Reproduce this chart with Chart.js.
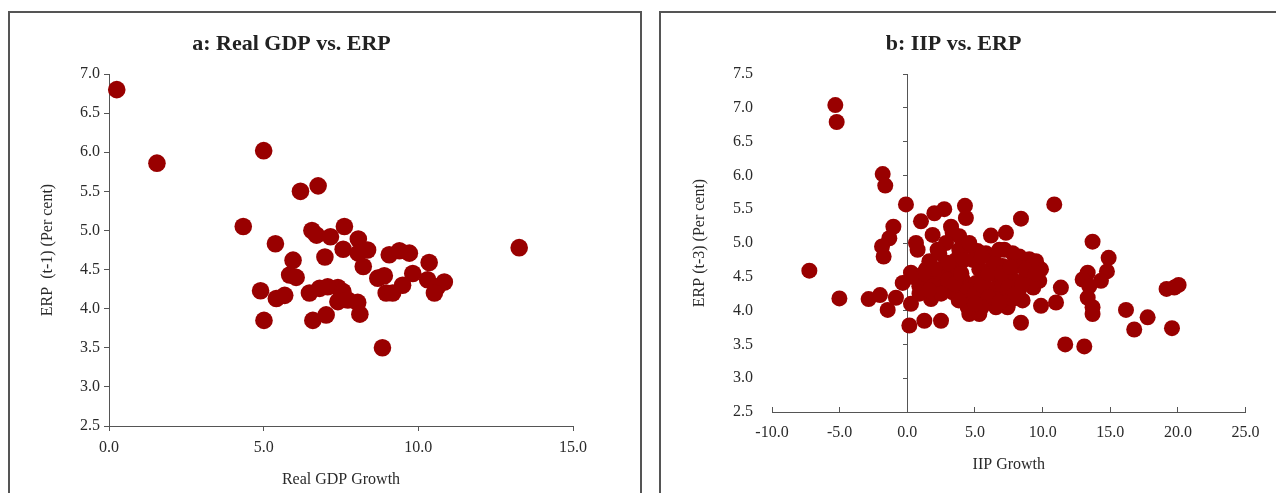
<!DOCTYPE html>
<html>
<head>
<meta charset="utf-8">
<script src="https://cdn.jsdelivr.net/npm/chart.js@4.4.1/dist/chart.umd.min.js"></script>
<style>
  html, body { margin: 0; padding: 0; background: #fff; overflow: hidden; }
  body { width: 1276px; height: 493px; position: relative; }
  .panel { position: absolute; top: 11px; border: 2px solid #555; height: 520px; }
  #panelA { left: 8px; width: 630px; }
  #panelB { left: 659px; width: 640px; }
  canvas { display: block; }
</style>
</head>
<body>
<div class="panel" id="panelA"><canvas id="chartA" width="630" height="480"></canvas></div>
<div class="panel" id="panelB"><canvas id="chartB" width="615" height="480"></canvas></div>
<script>
// panel a: real GDP growth vs ERP (t-1)
const gdpGrowth = [0.25, 1.55, 5.0, 6.19, 6.76, 4.34, 5.38, 6.56, 6.71, 7.16, 7.61, 8.06, 8.36, 7.57, 6.98,
  8.06, 8.22, 5.95, 5.84, 6.05, 9.06, 9.39, 9.71, 10.35, 8.69, 8.9, 9.82, 9.49, 10.3, 10.84, 10.62, 10.52,
  8.96, 9.17, 4.9, 5.41, 5.68, 6.48, 6.81, 7.07, 7.4, 7.56, 7.4, 7.72, 8.04, 8.11, 5.01, 6.59, 7.02, 8.84, 13.26];
const erpT1 = [6.8, 5.86, 6.02, 5.5, 5.57, 5.05, 4.83, 5.0, 4.94, 4.92, 5.05, 4.89, 4.75, 4.76, 4.66,
  4.71, 4.54, 4.62, 4.43, 4.4, 4.69, 4.74, 4.71, 4.59, 4.39, 4.42, 4.45, 4.3, 4.37, 4.34, 4.28, 4.2,
  4.2, 4.2, 4.23, 4.13, 4.17, 4.2, 4.26, 4.28, 4.27, 4.22, 4.09, 4.11, 4.08, 3.93, 3.85, 3.85, 3.92, 3.5, 4.78];

// panel b: IIP growth vs ERP (t-3)
const iipGrowth = [-5.32, -5.22, -1.82, -1.63, -0.1, -7.24, -5.02, -2.86, -2.02, -1.45, -1.03, -1.33, -1.87,
  -1.75, -0.84, -0.34, 0.27, 0.15, 1.26, 2.49, 0.27, 1.75, 1.01, 2.0, 2.73, 4.26, 4.33, 0.64, 0.76, 1.87,
  3.23, 3.84, 6.18, 7.29, 8.4, 10.86, 7.17, 13.69, 14.88, 14.75, 14.31, 13.33, 12.96, 13.45, 13.33, 13.69,
  13.69, 11.35, 10.99, 9.88, 8.4, 11.67, 13.08, 16.16, 17.76, 16.77, 19.56, 19.16, 19.73, 20.05, 4.58,
  5.32, 4.46, 6.55, 7.41, 8.52, 9.31, 9.75, 9.88, 9.51, 9.01, 8.28, 9.26, 6.31, 5.2, 4.33, 3.35, 2.86,
  2.24, 1.63, 1.38, 1.87, 2.36, 3.84, 4.09, 2.86, 3.35, 4.33, 5.07, 5.32, 4.83, 5.81, 6.31, 6.8, 6.31,
  7.29, 7.78, 8.03, 7.78, 8.77, 8.28, 5.81, 4.83, 3.84, 2.36, 0.89, 0.64, 1.38, 1.87, 3.6, 3.23, 2.86,
  7.04, 7.04, 7.78, 6.55, 9.26, 5.81, 3.84, 4.58, 3.35,
  2.6, 3.0, 3.5, 4.0, 4.5, 5.0, 5.5, 6.0, 6.5, 7.0, 7.5, 8.0, 8.5, 6.0, 5.5, 6.8, 4.2, 3.0, 2.0, 1.2,
  5.5, 6.8, 7.6, 8.8, 9.5, 2.5, 3.8, 5.0, 0.3, 0.9, 1.6];
const erpT3 = [7.04, 6.79, 6.02, 5.85, 5.57, 4.59, 4.18, 4.17, 4.23, 4.01, 5.24, 5.07, 4.95,
  4.8, 4.19, 4.41, 4.1, 3.78, 3.85, 3.85, 4.56, 4.17, 5.32, 5.44, 5.5, 5.55, 5.37, 5.0, 4.9, 5.12,
  5.24, 5.1, 5.11, 5.15, 5.36, 5.57, 4.9, 5.02, 4.78, 4.58, 4.44, 4.56, 4.46, 4.36, 4.19, 4.05,
  3.95, 4.34, 4.12, 4.07, 3.82, 3.5, 3.47, 4.01, 3.9, 3.72, 3.74, 4.32, 4.34, 4.38, 3.95,
  3.95, 4.05, 4.05, 4.05, 4.15, 4.34, 4.44, 4.61, 4.73, 4.76, 4.8, 4.66, 4.8, 4.88, 4.95, 5.15, 5.0,
  4.9, 4.73, 4.61, 4.56, 4.85, 4.61, 4.46, 4.36, 4.27, 4.27, 4.41, 4.61, 4.75, 4.51, 4.66, 4.46, 4.32,
  4.27, 4.46, 4.66, 4.85, 4.51, 4.32, 4.22, 4.17, 4.36, 4.46, 4.36, 4.51, 4.46, 4.36, 4.75, 4.56, 4.71,
  4.66, 4.36, 4.17, 4.17, 4.41, 4.85, 4.9, 5.0, 4.36,
  4.62, 4.45, 4.4, 4.55, 4.3, 4.25, 4.38, 4.55, 4.7, 4.55, 4.35, 4.25, 4.4, 4.2, 4.05, 4.12, 4.75, 4.7, 4.62, 4.55,
  4.8, 4.9, 4.65, 4.6, 4.55, 4.25, 4.15, 4.1, 4.5, 4.25, 4.3];

const FONT = "'Liberation Serif', 'DejaVu Serif', serif";
const TEXT = '#2a2a2a';
const AXIS = '#555555';
const DOT = '#990000';

function toPoints(xs, ys) {
    let data = [];
    for (let i = 0; i < xs.length; i++)
        data.push({ x: xs[i], y: ys[i] });
    return data;
}

function fmt(v) {
    return Number(v).toFixed(1);
}

function makeScatter(canvas_id, xs, ys, radius, title, rightPad, scales) {
    new Chart(canvas_id, {
        type: 'scatter',
        data: {
            datasets: [{
                data: toPoints(xs, ys),
                backgroundColor: DOT,
                borderWidth: 0,
                pointRadius: radius,
                pointHoverRadius: radius,
                clip: false
            }]
        },
        options: {
            responsive: false,
            animation: false,
            layout: { padding: { left: 0, right: rightPad, top: 0, bottom: 0 } },
            plugins: {
                legend: { display: false },
                tooltip: { enabled: false },
                title: {
                    display: true,
                    text: title,
                    color: '#222',
                    font: { family: FONT, size: 22, weight: 'bold', lineHeight: 1.2 },
                    padding: { top: 18, bottom: 16.6 }
                }
            },
            scales: scales
        }
    });
}

const tickFont = { family: FONT, size: 16, lineHeight: 1.2 };
const titleFont = { family: FONT, size: 16, lineHeight: 1.2 };

makeScatter('chartA', gdpGrowth, erpT1, 8.8, 'a: Real GDP vs. ERP', 67, {
    x: {
        type: 'linear', min: 0, max: 15,
        afterFit: s => { s.height = 67; },
        ticks: { stepSize: 5, callback: fmt, padding: 7.4, color: TEXT, font: tickFont, maxRotation: 0 },
        grid: { display: true, drawOnChartArea: false, drawTicks: true, tickLength: 5, color: AXIS },
        border: { display: true, color: AXIS, width: 1 },
        title: { display: true, text: 'Real GDP Growth', color: TEXT, font: titleFont, padding: { top: 0, bottom: 3.4 } }
    },
    y: {
        type: 'linear', min: 2.5, max: 7.0,
        afterFit: s => { s.width = 99; },
        ticks: { stepSize: 0.5, callback: fmt, padding: 4, color: TEXT, font: tickFont },
        grid: { display: true, drawOnChartArea: false, drawTicks: true, tickLength: 5, color: AXIS },
        border: { display: true, color: AXIS, width: 1 },
        title: { display: true, text: 'ERP  (t-1) (Per cent)', color: TEXT, font: titleFont, padding: { top: 28, bottom: 0 } }
    }
});

makeScatter('chartB', iipGrowth, erpT3, 8, 'b: IIP vs. ERP', 30, {
    x: {
        type: 'linear', min: -10, max: 25,
        afterFit: s => { s.height = 81; },
        ticks: { stepSize: 5, callback: fmt, padding: 16.4, color: TEXT, font: tickFont, maxRotation: 0 },
        grid: { display: true, drawOnChartArea: false, drawTicks: true, tickLength: -5, color: AXIS },
        border: { display: true, color: AXIS, width: 1 },
        title: { display: true, text: 'IIP Growth', color: TEXT, font: titleFont, padding: { top: 0, bottom: 18.4 } }
    },
    y: {
        type: 'linear', position: 'left', min: 2.5, max: 7.5,
        afterFit: s => { s.width = 111; },
        ticks: { stepSize: 0.5, callback: fmt, padding: 19, color: TEXT, font: tickFont },
        grid: { display: false, drawTicks: false, tickLength: 0 },
        border: { display: false },
        title: { display: true, text: 'ERP (t-3) (Per cent)', color: TEXT, font: titleFont, padding: { top: 29.4, bottom: 0 } }
    },
    y2: {
        type: 'linear', position: { x: 0 }, min: 2.5, max: 7.5,
        ticks: { display: false, stepSize: 0.5 },
        grid: { display: true, drawOnChartArea: false, drawTicks: true, tickLength: 4, color: AXIS },
        border: { display: true, color: AXIS, width: 1 }
    }
});
</script>
</body>
</html>
